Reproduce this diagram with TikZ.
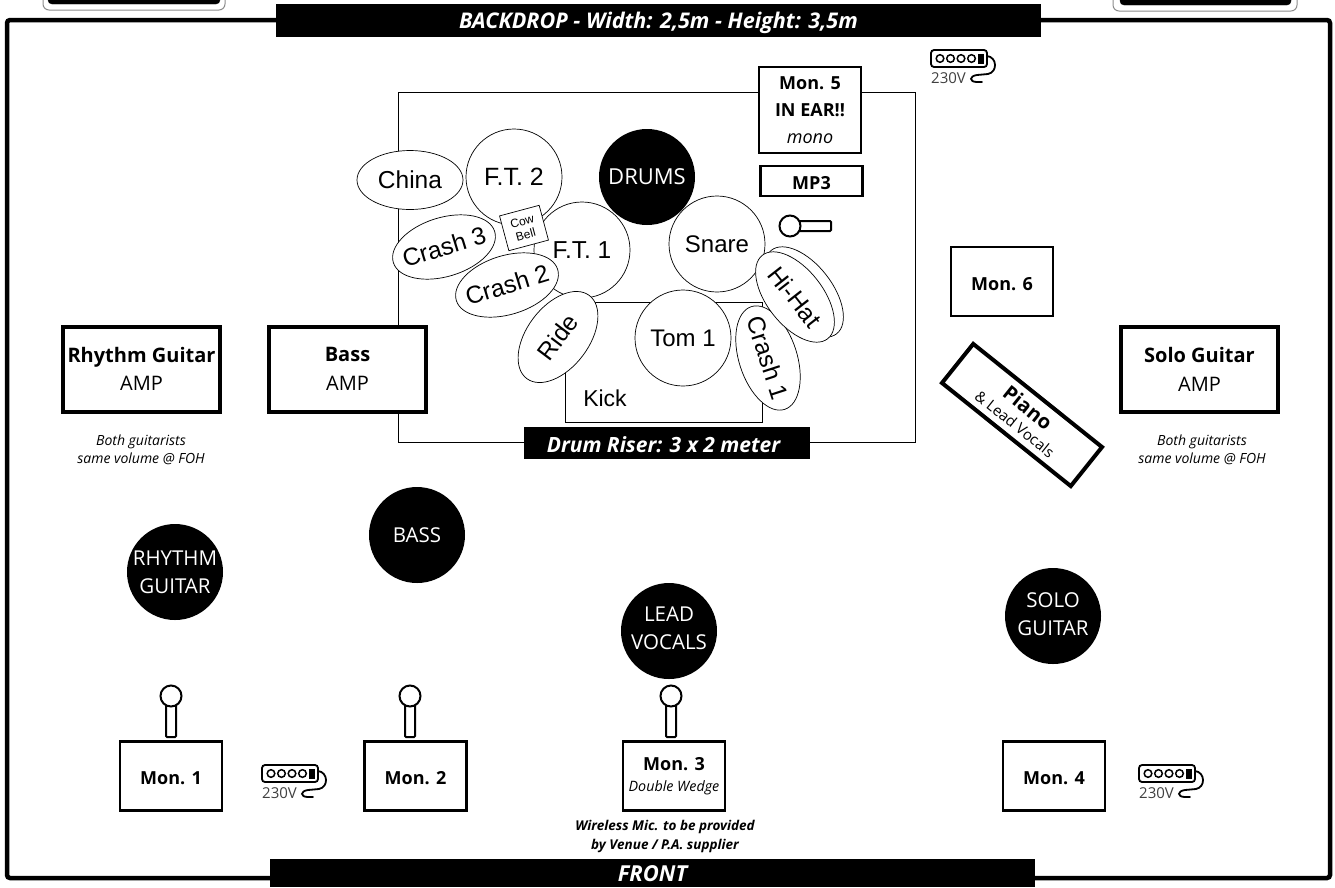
\documentclass[tikz,border=0pt]{standalone}
\usepackage{fontspec}
\setmainfont{Open Sans}
\newfontfamily\drumfont{Liberation Sans}
\usetikzlibrary{positioning,shapes.geometric}
\newcommand{\sz}[1]{\fontsize{#1}{#1}\selectfont}
\tikzset{
	every node/.style={align=center, inner sep=0pt},
	lowtext/.style={execute at begin node={\rule{0pt}{#1}}},
	hightext/.style={execute at end node={\rule[-#1]{0pt}{0pt}}},
	blackbar/.style={fill=black, text=white, font=\sz{21}\bfseries\itshape},
	ampbox/.style={draw, line width=4pt, fill=white, minimum width=157pt, minimum height=85pt, lowtext=20pt, font=\fontsize{20}{28.5}\selectfont},
	monbox/.style={draw, line width=2.3pt, fill=white, minimum width=102pt, minimum height=69pt, lowtext=18pt, font=\fontsize{18}{22}\selectfont},
	player/.style={circle, fill=black, text=white, minimum size=96pt, font=\fontsize{20.5}{28}\selectfont},
	drum/.style={circle, draw, line width=.7pt, fill=white, minimum size=96pt, font=\drumfont\sz{24}},
	cymbal/.style={ellipse, draw, line width=.7pt, fill=white, inner xsep=-25pt, minimum width=106pt, minimum height=59pt, font=\drumfont\sz{24.5}},
	smallnote/.style={font=\fontsize{14}{18}\selectfont\itshape},
	mic/.pic={
		\draw[line width=2pt, rounded corners=1pt, fill=white] (-5,8) rectangle (5,41);
		\draw[line width=2pt, fill=white] (0,0) circle (10.5pt);
	},
	powerstrip/.pic={
		\draw[line width=1.8pt, rounded corners=3pt] (0,0) rectangle (56,17);
		\draw[line width=1.5pt] (9,8.5) circle (3.8pt) (19.5,8.5) circle (3.8pt) (30,8.5) circle (3.8pt) (40.5,8.5) circle (3.8pt);
		\draw[fill=black] (47,4) rectangle (52,13);
		\draw[line width=1.8pt, line cap=round] (56,6) .. controls (66,7) and (67,22) .. (57,24) -- (46,25) .. controls (38,26) and (38,32) .. (46,32) -- (51,32);
		\node[anchor=west, text=black!75, font=\sz{15}] (-volt) at (0,28) {230V};
	},
}
\begin{document}
\begin{tikzpicture}[x=1pt,y=-1pt]
	\useasboundingbox (0,0) rectangle (1335,887);
	\draw[black!45, line width=1pt, rounded corners=6pt, fill=white] (43,-30) rectangle (225,10);
	\draw[fill=black, rounded corners=4pt] (48,-30) rectangle (220,4);
	\draw[black!45, line width=1pt, rounded corners=6pt, fill=white] (1113,-30) rectangle (1297,11);
	\draw[fill=black, rounded corners=4pt] (1120,-30) rectangle (1291,5);
	\draw[line width=4.5pt, rounded corners=3pt] (7,20) rectangle (1330,878);
	\node[blackbar, lowtext=21pt, minimum width=765pt, minimum height=33pt, font=\sz{21.6}\bfseries\itshape] (backdrop) at (658.5,20.5) {BACKDROP - Width: 2,5m - Height: 3,5m};
	\node[blackbar, lowtext=18pt, minimum width=765pt, minimum height=28pt, font=\sz{22}\bfseries\itshape] (front) at (652.5,873) {FRONT};

	\draw[line width=.8pt] (398,92) rectangle (915,442);
	\draw[line width=.8pt] (565.5,302) rectangle (762,422);
	\node[font=\drumfont\sz{23}] (kick) at (605,398) {Kick};
	\node[blackbar, lowtext=19pt, minimum width=286pt, minimum height=32pt] (riser) at (666.5,443) {\hspace*{-6pt}Drum Riser: 3 x 2 meter};

	\node[drum, font=\drumfont\sz{24.5}] (ft1) at (582,250) {F.T. 1};
	\node[drum, font=\drumfont\sz{25}] (ft2) at (514,177) {F.T. 2};
	\node[draw, line width=.7pt, fill=white, minimum width=41pt, minimum height=36pt, rotate=15, font=\drumfont\fontsize{12}{14}\selectfont] (cowbell) at (524,228) {Cow\\Bell};
	\node[cymbal] (china) at (410,180) {China};
	\node[cymbal, rotate=17] (crash3) at (444,247) {Crash 3};
	\node[cymbal, rotate=17] (crash2) at (507,285) {Crash 2};
	\node[drum] (snare) at (717,244) {Snare};
	\node[drum] (tom1) at (683,338) {Tom 1};
	\node[cymbal, rotate=53, minimum width=104pt, minimum height=62pt] (ride) at (558,337) {Ride};
	\node[cymbal, rotate=-72, minimum width=108pt, minimum height=58pt] (crash1) at (768,358) {Crash 1};
	\node[cymbal, rotate=-52, minimum width=106pt, minimum height=56pt] (hihatback) at (804,292) {};
	\node[cymbal, rotate=-52, minimum width=106pt, minimum height=56pt] (hihat) at (795,297) {Hi-Hat};
	\node[player, font=\sz{22}] (drums) at (647,177) {DRUMS};

	\node[monbox, lowtext=19pt, minimum height=86pt, font=\fontsize{18}{27}\selectfont] (mon5) at (810,110) {\textbf{Mon. 5}\\\textbf{IN EAR!!}\\\textit{mono}};
	\node[monbox, lowtext=13pt, minimum height=30pt, font=\sz{18}\bfseries] (mp3) at (811.5,181) {MP3};
	\pic[rotate=90] (mic4) at (790,226) {mic};

	\node[ampbox] (rhythmamp) at (141.5,369) {\textbf{Rhythm Guitar}\\AMP};
	\node[ampbox] (bassamp) at (347.5,369) {\textbf{Bass}\\AMP};
	\node[ampbox] (soloamp) at (1199.5,369.5) {\textbf{Solo Guitar}\\AMP};
	\node[smallnote] (noteleft) at (141,450) {Both guitarists\\same volume @ FOH};
	\node[smallnote] (noteright) at (1202,450) {Both guitarists\\same volume @ FOH};

	\node[monbox] (mon6) at (1002,281.5) {\textbf{Mon. 6}};
	\node[draw, line width=4pt, fill=white, minimum width=165pt, minimum height=50pt, rotate=-38.7, font=\fontsize{15}{19}\selectfont] (piano) at (1022,415) {{\sz{20}\bfseries Piano}\\\& Lead Vocals};

	\node[player, lowtext=19pt] (rhythm) at (175,572) {RHYTHM\\GUITAR};
	\node[player] (bass) at (417,535) {BASS};
	\node[player, hightext=6pt] (lead) at (669,631) {LEAD\\VOCALS};
	\node[player, hightext=4pt] (solo) at (1053,616) {SOLO\\GUITAR};

	\pic (mic1) at (171,696) {mic};
	\pic (mic2) at (410,696) {mic};
	\pic (mic3) at (671,696) {mic};
	\node[monbox] (mon1) at (171,776) {\textbf{Mon. 1}};
	\node[monbox] (mon2) at (415.5,776) {\textbf{Mon. 2}};
	\node[monbox, lowtext=19pt, font=\fontsize{18}{21}\selectfont] (mon3) at (674,776) {\textbf{Mon. 3}\\{\sz{14.3}\itshape Double Wedge}};
	\node[monbox] (mon4) at (1054,776) {\textbf{Mon. 4}};
	\node[smallnote, font=\fontsize{13.5}{19}\selectfont\bfseries\itshape] (wireless) at (665,836) {Wireless Mic. to be provided\\by Venue / P.A. supplier};

	\pic (strip1) at (931,50) {powerstrip};
	\pic (strip2) at (262,765) {powerstrip};
	\pic (strip3) at (1139,765) {powerstrip};
\end{tikzpicture}
\end{document}
